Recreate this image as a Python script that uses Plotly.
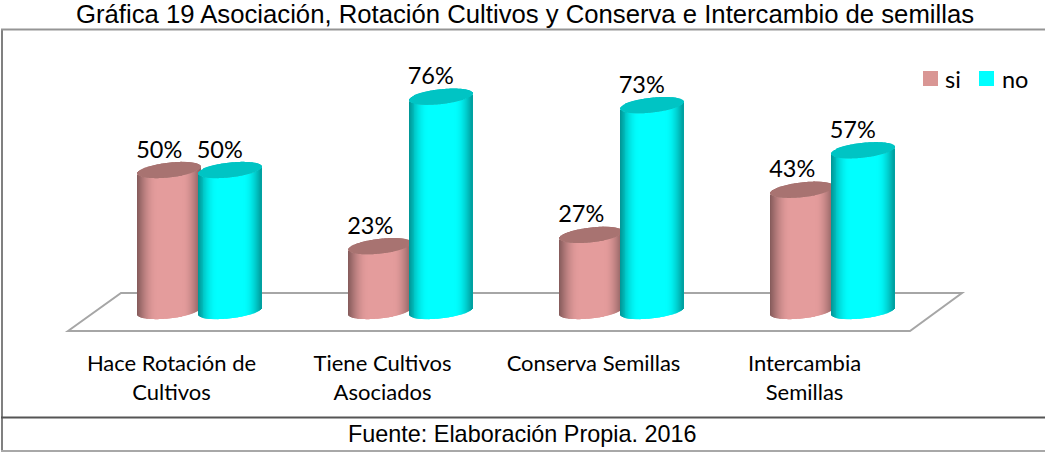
import math

import plotly.graph_objects as go

# ---------------------------------------------------------------------------
# Data
# ---------------------------------------------------------------------------
CATEGORIES = ["Hace Rotación de<br>Cultivos", "Tiene Cultivos<br>Asociados",
              "Conserva Semillas", "Intercambia<br>Semillas"]
SI_VALUES = [50, 23, 27, 43]
NO_VALUES = [50, 76, 73, 57]

TITLE = "Gráfica 19 Asociación, Rotación Cultivos y Conserva e Intercambio de semillas"
SOURCE = "Fuente: Elaboración Propia. 2016"

W, H = 1045, 452
SI_RGB = (228, 156, 156)
NO_RGB = (0, 255, 255)
SI_CAP = "#a87371"
NO_CAP = "#00c4c4"
CALIBRI_LIKE = "Lato, 'Open Sans', sans-serif"
ARIAL_LIKE = "'Liberation Sans', Arial, sans-serif"

# plot area: one category is 210.7px wide, one percent is 2.82px high
M_L, M_R, M_T, M_B = 94, 107, 36, 104
PX_X = (W - M_L - M_R) / 4
Y0_PX = 311
PX_Y = 2.82
Y_RANGE = [-(H - M_B - Y0_PX) / PX_Y, (Y0_PX - M_T) / PX_Y]

# cylinder look (tilted ellipses, px)
N_SLICES = 64
HALF_W = 31.5
ELL_B = 7.4
ELL_TILT = 3.4
OFFSET = 30.2
TICK_SHIFT = 28


def shade(rgb, t):
    # darker towards both sides of the cylinder
    if t < 0.32:
        f = 0.58 + 0.42 * math.sin(t / 0.32 * math.pi / 2)
    elif t > 0.72:
        f = 0.62 + 0.38 * math.cos((t - 0.72) / 0.28 * math.pi / 2)
    else:
        f = 1.0
    return "rgb(%d,%d,%d)" % tuple(c * f for c in rgb)


def cylinder_traces(values, rgb, cap_color, side, name):
    xs, base, height, colors = [], [], [], []
    cap_xs, cap_base, cap_height = [], [], []
    for i, v in enumerate(values):
        for j in range(N_SLICES):
            t = (j + 0.5) / N_SLICES
            u = 2 * t - 1
            arc = ELL_B * math.sqrt(1 - u * u) / PX_Y
            tilt = ELL_TILT * u / PX_Y
            x = i + side * OFFSET / PX_X + u * HALF_W / PX_X
            xs.append(x)
            base.append(tilt - arc)
            height.append(v)
            colors.append(shade(rgb, t))
            cap_xs.append(x)
            cap_base.append(v + tilt - arc)
            cap_height.append(2 * arc)
    slice_w = 1.25 * 2 * HALF_W / N_SLICES / PX_X
    body = go.Bar(x=xs, y=height, base=base, width=slice_w, name=name,
                  marker=dict(color=colors, line=dict(width=0)),
                  hoverinfo="skip", showlegend=False)
    cap = go.Bar(x=cap_xs, y=cap_height, base=cap_base, width=slice_w, name=name,
                 marker=dict(color=cap_color, line=dict(width=0)),
                 hoverinfo="skip", showlegend=False)
    return [body, cap]


# paper coordinates are relative to the plot area, these take page pixels
def px_x(x):
    return (x - M_L) / (W - M_L - M_R)


def px_y(y):
    return (H - M_B - y) / (H - M_B - M_T)


def page_text(text, x, y, family, size, xanchor="center"):
    return dict(text=text, x=px_x(x), y=px_y(y), xref="paper", yref="paper",
                showarrow=False, xanchor=xanchor, yanchor="middle",
                font=dict(family=family, size=size, color="#000000"))


def page_line(x0, y0, x1, y1, color):
    return dict(type="line", xref="paper", yref="paper", layer="below",
                x0=px_x(x0), x1=px_x(x1), y0=px_y(y0), y1=px_y(y1),
                line=dict(color=color, width=2))


fig = go.Figure()
for tr in cylinder_traces(SI_VALUES, SI_RGB, SI_CAP, -1, "si"):
    fig.add_trace(tr)
for tr in cylinder_traces(NO_VALUES, NO_RGB, NO_CAP, 1, "no"):
    fig.add_trace(tr)

# data labels, sitting up and to the left of each cylinder
for values, side in ((SI_VALUES, -1), (NO_VALUES, 1)):
    fig.add_trace(go.Scatter(
        x=[i + (side * OFFSET - 10) / PX_X for i in range(len(values))],
        y=[v + 6.5 for v in values],
        text=["%d%%" % v for v in values],
        mode="text", textposition="middle center",
        textfont=dict(family=CALIBRI_LIKE, size=23.5, color="#000000"),
        hoverinfo="skip", showlegend=False,
    ))

# floor, frame (open on the right) and the line above the source
floor = "M %f %f L %f %f L %f %f L %f %f Z" % (
    px_x(68), px_y(331), px_x(121), px_y(293), px_x(962), px_y(293), px_x(910), px_y(331))
shapes = [
    dict(type="path", path=floor, xref="paper", yref="paper", layer="below",
         line=dict(color="#a6a6a6", width=2), fillcolor="#ffffff"),
    page_line(2, 29.5, 2, 451, "#808080"),
    page_line(1, 29.5, W, 29.5, "#959595"),
    page_line(1, 417.5, W, 417.5, "#555555"),
    page_line(1, 451, W, 451, "#a8a8a8"),
    # legend swatches
    dict(type="rect", xref="paper", yref="paper", x0=px_x(923), x1=px_x(938),
         y0=px_y(86), y1=px_y(71), line=dict(width=0), fillcolor="#d99694"),
    dict(type="rect", xref="paper", yref="paper", x0=px_x(979), x1=px_x(994),
         y0=px_y(86), y1=px_y(71), line=dict(width=0), fillcolor="#00ffff"),
]

annotations = [
    page_text(TITLE, 525, 14, ARIAL_LIKE, 25.7),
    page_text(SOURCE, 522, 434, ARIAL_LIKE, 23.4),
    page_text("si", 943, 79, CALIBRI_LIKE, 23.5, xanchor="left"),
    page_text("no", 1000, 79, CALIBRI_LIKE, 23.5, xanchor="left"),
]

fig.update_layout(
    width=W, height=H,
    margin=dict(l=M_L, r=M_R, t=M_T, b=M_B, autoexpand=False),
    paper_bgcolor="#ffffff", plot_bgcolor="rgba(0,0,0,0)",
    barmode="overlay", showlegend=False,
    shapes=shapes, annotations=annotations,
    xaxis=dict(range=[-0.5, 3.5], tickmode="array",
               tickvals=[i - TICK_SHIFT / PX_X for i in range(len(CATEGORIES))],
               ticktext=CATEGORIES, showgrid=False, zeroline=False, showline=False,
               ticks="", tickangle=0,
               tickfont=dict(family=CALIBRI_LIKE, size=22, color="#000000")),
    yaxis=dict(range=Y_RANGE, visible=False),
)

# the page's default body margin would push the figure 8px down and right
fig.write_html("out.html", config=dict(displayModeBar=False),
               post_script="document.body.style.margin = '0';")
